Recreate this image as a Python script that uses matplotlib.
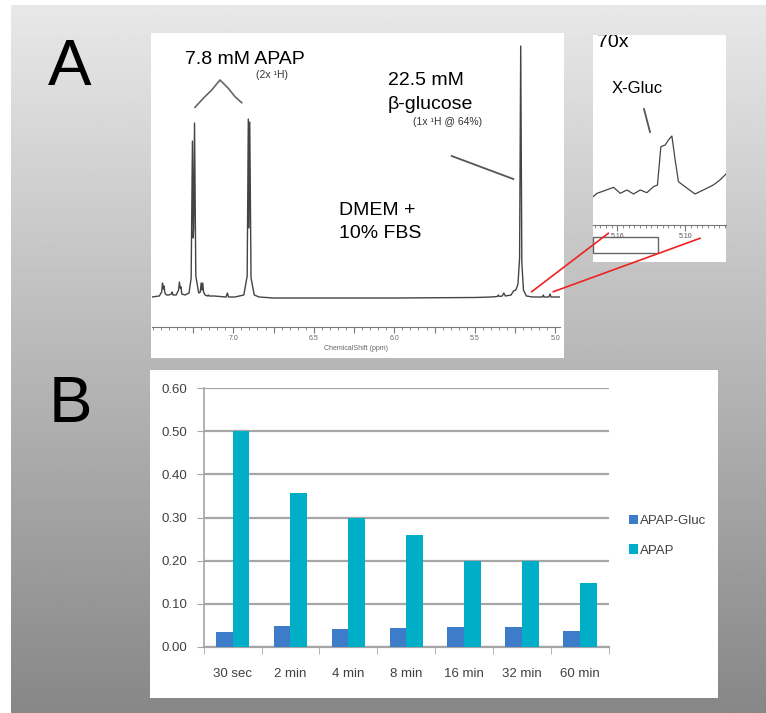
import numpy as np
import matplotlib.pyplot as plt
from matplotlib.patches import Rectangle
from matplotlib.ticker import MultipleLocator, FixedLocator, FixedFormatter

plt.rcParams['font.family'] = ['Liberation Sans', 'DejaVu Sans']

W, H = 766, 713

# panel B: fraction of signal at each time point
times = ['30 sec', '2 min', '4 min', '8 min', '16 min', '32 min', '60 min']
apap_gluc = [0.033, 0.049, 0.040, 0.043, 0.045, 0.045, 0.037]
apap = [0.50, 0.357, 0.298, 0.26, 0.20, 0.20, 0.147]

# panel A: 1H spectrum (ppm, intensity above baseline)
spec_ppm = [7.507, 7.46, 7.445, 7.440, 7.435, 7.430, 7.425, 7.415, 7.40, 7.385,
            7.380, 7.375, 7.355, 7.340, 7.335, 7.330, 7.325, 7.320, 7.300, 7.275,
            7.262, 7.254, 7.249, 7.246, 7.241, 7.233, 7.215, 7.205, 7.200, 7.195,
            7.190, 7.185, 7.175, 7.160, 7.155, 7.150, 7.120, 7.045, 7.037, 7.030,
            6.990, 6.935, 6.914, 6.907, 6.903, 6.898, 6.890, 6.870, 6.840, 6.750,
            6.500, 6.000, 5.500, 5.400, 5.360, 5.354, 5.348, 5.330, 5.320, 5.310,
            5.275, 5.260, 5.245, 5.232, 5.222, 5.215, 5.208, 5.198, 5.180, 5.140,
            5.080, 5.075, 5.070, 5.040, 5.033, 5.026, 4.971]
spec_int = [1, 2, 6, 15, 9, 12, 5, 3, 3, 4,
            6, 3, 3, 8, 16, 10, 11, 4, 3, 5,
            20, 157, 60, 70, 175, 22, 5, 6, 15, 8,
            15, 6, 3, 2, 3, 2, 2, 1, 5, 1,
            1, 3, 22, 179, 70, 176, 20, 3, 1, 0,
            0, 0, 0.5, 1, 1.5, 3, 1.5, 2, 5, 2,
            3, 7, 8, 14, 40, 252, 35, 8, 2, 1,
            1, 3, 1, 1, 4, 1, 1]

# 70x inset trace
inset_ppm = [5.1814, 5.1778, 5.1720, 5.1633, 5.1574, 5.1515, 5.1457, 5.1398,
             5.1339, 5.1281, 5.1246, 5.1216, 5.1178, 5.1149, 5.1119, 5.1090,
             5.1061, 5.1003, 5.0915, 5.0842, 5.0754, 5.0695, 5.0642]
inset_int = [28.3, 31.7, 34, 37.7, 31.7, 35, 31, 35,
             32.3, 38.3, 40, 78.3, 80, 85, 89, 65,
             43.3, 38.3, 31, 35, 40, 45, 51]


def box(x0, y0, x1, y1):
    return [x0 / W, 1 - y1 / H, (x1 - x0) / W, (y1 - y0) / H]


fig = plt.figure(figsize=(W / 100, H / 100), dpi=100)
fig.patch.set_facecolor('white')

# background, white panels and labels (pixel coordinates)
bg = fig.add_axes([0, 0, 1, 1])
grad = np.linspace(0.91, 0.53, 256).reshape(-1, 1)
bg.imshow(grad, cmap='gray', vmin=0, vmax=1, extent=[11, W, H, 5], aspect='auto')
bg.add_patch(Rectangle((151, 33), 413, 325, fc='white', ec='none'))
inset_box = Rectangle((593, 35), 133, 227, fc='white', ec='none')
bg.add_patch(inset_box)
bg.add_patch(Rectangle((150, 370), 568, 328, fc='white', ec='none'))
bg.add_patch(Rectangle((593, 237), 65, 16, fc='none', ec='#666666', lw=1))
bg.set_xlim(0, W)
bg.set_ylim(H, 0)
bg.axis('off')

bg.text(70, 85, 'A', fontsize=47, ha='center', va='baseline')
bg.text(70, 421.7, 'B', fontsize=47, ha='center', va='baseline')

bg.text(185, 63.5, '7.8 mM APAP', fontsize=14, va='baseline')
bg.text(256, 77.7, '(2x \u00b9H)', fontsize=7.5, va='baseline', color='#333333')
bg.text(388, 85, '22.5 mM', fontsize=14, va='baseline')
bg.text(388, 109.3, '\u03b2-glucose', fontsize=14, va='baseline')
bg.text(413, 125, '(1x \u00b9H @ 64%)', fontsize=7.5, va='baseline', color='#333333')
bg.text(339, 215, 'DMEM +', fontsize=14, va='baseline')
bg.text(339, 238.3, '10% FBS', fontsize=14, va='baseline')
t70 = bg.text(596.7, 46.7, '70x', fontsize=14, va='baseline', clip_on=True)
t70.set_clip_path(inset_box)
bg.text(612, 92.7, 'X-Gluc', fontsize=12, va='baseline')

bg.plot([451.7, 513.3], [156, 179], color='#555555', lw=1.3)
bg.plot([644, 650], [109, 132], color='#555555', lw=1.3)
bg.plot([195, 203.3, 211.7, 220, 228.3, 235, 241.7],
        [107.3, 98.3, 90, 80, 88.3, 96.7, 102.7], color='#666666', lw=1.2)

# main spectrum
sp = fig.add_axes(box(151.7, 40, 560, 327))
sp.patch.set_alpha(0)
sp.plot(spec_ppm, spec_int, color='#444444', lw=1.0)
sp.set_xlim(7.507, 4.971)
sp.set_ylim(-29, 258)
for s in ['top', 'right', 'left']:
    sp.spines[s].set_visible(False)
sp.spines['bottom'].set_color('#777777')
sp.set_yticks([])
maj = [7.25, 7.0, 6.75, 6.5, 6.25, 6.0, 5.75, 5.5, 5.25, 5.0]
sp.xaxis.set_major_locator(FixedLocator(maj))
sp.xaxis.set_major_formatter(FixedFormatter(['', '7.0', '', '6.5', '', '6.0', '', '5.5', '', '5.0']))
sp.xaxis.set_minor_locator(MultipleLocator(0.05))
sp.tick_params(axis='x', which='major', length=4, color='#777777', labelsize=5,
               labelcolor='#666666', pad=2)
sp.tick_params(axis='x', which='minor', length=2, color='#777777')
sp.set_xlabel('ChemicalShift (ppm)', fontsize=5, color='#666666', labelpad=2)

# 70x inset
ins = fig.add_axes(box(593, 35, 726, 225))
ins.patch.set_alpha(0)
ins.plot(inset_ppm, inset_int, color='#444444', lw=0.9)
ins.set_xlim(5.1814, 5.0642)
ins.set_ylim(0, 190)
for s in ['top', 'right', 'left']:
    ins.spines[s].set_visible(False)
ins.spines['bottom'].set_color('#777777')
ins.set_yticks([])
ins.xaxis.set_major_locator(FixedLocator([5.16, 5.10]))
ins.xaxis.set_major_formatter(FixedFormatter(['5.16', '5.10']))
ins.xaxis.set_minor_locator(MultipleLocator(0.005))
ins.tick_params(axis='x', which='major', length=4, color='#777777', labelsize=5,
                labelcolor='#555555', pad=1.5)
ins.tick_params(axis='x', which='minor', length=2.5, color='#777777')

# panel B bar chart
bx = fig.add_axes(box(203.6, 388.3, 609, 646.7))
bx.patch.set_alpha(0)
x = np.arange(len(times))
w = 0.29
bx.bar(x - w / 2, apap_gluc, w, color='#3c7cc8', label='APAP-Gluc', zorder=3)
bx.bar(x + w / 2, apap, w, color='#00aec8', label='APAP', zorder=3)
bx.set_xlim(-0.5, len(times) - 0.5)
bx.set_ylim(0, 0.6)
bx.set_yticks(np.arange(0, 0.61, 0.1))
bx.set_yticklabels(['%.2f' % v for v in np.arange(0, 0.61, 0.1)])
bx.set_xticks(x)
bx.set_xticklabels(times)
bx.set_xticks(np.arange(-0.5, len(times), 1), minor=True)
bx.yaxis.grid(True, color='#a6a6a6', lw=1.6)
bx.set_axisbelow(True)
for s in ['top', 'right']:
    bx.spines[s].set_visible(False)
bx.spines['left'].set_color('#a6a6a6')
bx.spines['left'].set_linewidth(1.2)
bx.spines['bottom'].set_color('#a6a6a6')
bx.spines['bottom'].set_linewidth(1.6)
bx.tick_params(axis='y', length=5, color='#a6a6a6', labelsize=9.5, labelcolor='#404040', pad=7)
bx.tick_params(axis='x', which='major', length=0, labelsize=9.5, labelcolor='#404040', pad=15)
bx.tick_params(axis='x', which='minor', length=5, color='#a6a6a6')
leg = bx.legend(loc='upper left', bbox_to_anchor=(629 / W, 1 - 515 / H),
                bbox_transform=fig.transFigure, frameon=False,
                fontsize=9.5, handlelength=0.7,
                handleheight=0.7, handletextpad=0.15, labelspacing=1.3,
                borderpad=0, borderaxespad=0)
for t in leg.get_texts():
    t.set_color('#404040')

# red zoom lines on top
ov = fig.add_axes([0, 0, 1, 1])
ov.patch.set_alpha(0)
ov.set_xlim(0, W)
ov.set_ylim(H, 0)
ov.axis('off')
ov.plot([531.7, 608.3], [291.7, 233.3], color='#ee2222', lw=1.2)
ov.plot([553.3, 700], [291.7, 238.3], color='#ee2222', lw=1.2)

fig.savefig('out.png', dpi=100)
